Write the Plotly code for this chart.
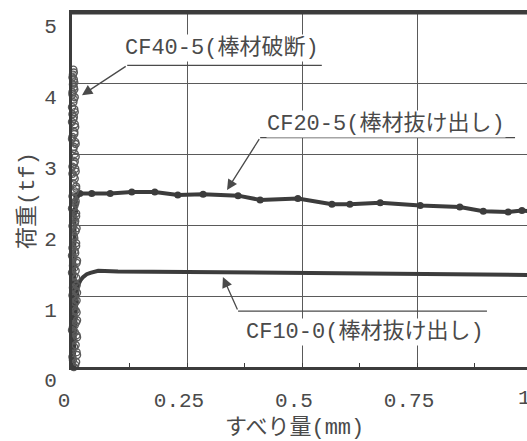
import plotly.graph_objects as go

# ---- data ----
cf40_x = [0.004, 0.009, 0.001, 0.010, 0.005, -0.003, 0.011, 0.006, 0.002, 0.009,
          0.004, 0.010, -0.002, 0.007, 0.005, 0.011, 0.002, 0.006, 0.009, 0.000,
          0.005, 0.010, 0.003, 0.007, 0.001, 0.009, 0.005, -0.003, 0.010, 0.006,
          0.003, 0.009, 0.000, 0.007, 0.004, -0.002, 0.009, 0.003, 0.006, 0.001,
          0.007, 0.004, -0.003, 0.006, 0.003, 0.008, 0.000, 0.005, -0.002, 0.006,
          0.003, 0.001, 0.005, -0.002, 0.004, 0.001, 0.005, 0.002, 0.004, 0.002,
          0.003,
          0.007, 0.002, 0.011, -0.001, 0.008, 0.003, 0.010, 0.000, 0.006, 0.011,
          -0.002, 0.008, 0.003, 0.010, 0.001, 0.007, 0.010, -0.001, 0.004, 0.008,
          0.002, 0.011, 0.000, 0.006, 0.009, -0.002, 0.004, 0.008, 0.001, 0.007,
          0.009, -0.001, 0.005, 0.008, 0.001, 0.006, 0.009, -0.002, 0.004, 0.008,
          0.001, 0.006, 0.008, -0.001, 0.004, 0.007, 0.001, 0.005, 0.007, 0.000,
          0.004, 0.006, 0.000, 0.003, 0.006, 0.001, 0.004, 0.005, 0.001, 0.004]
cf40_y = [0.00, 0.07, 0.14, 0.21, 0.28, 0.35, 0.42, 0.49, 0.56, 0.63,
          0.70, 0.77, 0.84, 0.91, 0.98, 1.05, 1.12, 1.19, 1.26, 1.33,
          1.40, 1.47, 1.54, 1.61, 1.68, 1.75, 1.82, 1.89, 1.96, 2.03,
          2.10, 2.17, 2.24, 2.31, 2.38, 2.45, 2.52, 2.59, 2.66, 2.73,
          2.80, 2.87, 2.94, 3.01, 3.08, 3.15, 3.22, 3.29, 3.36, 3.43,
          3.50, 3.57, 3.64, 3.71, 3.78, 3.85, 3.92, 3.99, 4.06, 4.13,
          4.20,
          0.03, 0.10, 0.17, 0.24, 0.31, 0.38, 0.45, 0.52, 0.59, 0.66,
          0.73, 0.80, 0.87, 0.94, 1.01, 1.08, 1.15, 1.22, 1.29, 1.36,
          1.43, 1.50, 1.57, 1.64, 1.71, 1.78, 1.85, 1.92, 1.99, 2.06,
          2.13, 2.20, 2.27, 2.34, 2.41, 2.48, 2.55, 2.62, 2.69, 2.76,
          2.83, 2.90, 2.97, 3.04, 3.11, 3.18, 3.25, 3.32, 3.39, 3.46,
          3.53, 3.60, 3.67, 3.74, 3.81, 3.88, 3.95, 4.02, 4.09, 4.16]

cf20_x = [0.002, 0.004, 0.006, 0.010, 0.017, 0.043, 0.083, 0.130, 0.180, 0.230,
          0.285, 0.361, 0.409, 0.491, 0.565, 0.604, 0.670, 0.757, 0.843, 0.894,
          0.948, 0.978, 1.000]
cf20_y = [0.00, 1.20, 2.20, 2.42, 2.45, 2.45, 2.45, 2.47, 2.47, 2.43,
          2.44, 2.42, 2.36, 2.38, 2.30, 2.30, 2.32, 2.28, 2.26, 2.20,
          2.19, 2.21, 2.20]

cf10_x = [0.003, 0.006, 0.009, 0.013, 0.018, 0.024, 0.032, 0.040, 0.057, 0.100,
          0.250, 0.500, 0.670, 0.850, 1.000]
cf10_y = [0.00, 0.50, 0.90, 1.15, 1.22, 1.27, 1.31, 1.33, 1.36, 1.35,
          1.34, 1.33, 1.31, 1.30, 1.30]

x_ticks = [0, 0.25, 0.5, 0.75]
x_tick_text = ["0", "0.25", "0.5", "0.75"]
y_ticks = [0, 1, 2, 3, 4, 5]
y_tick_text = ["0", "1", "2", "3", "4", "5"]

label_cf40 = "CF40-5(棒材破断)"
label_cf20 = "CF20-5(棒材抜け出し)"
label_cf10 = "CF10-0(棒材抜け出し)"
x_title = "すべり量(mm)"
y_title = "荷重(tf)"

FONT = "Liberation Mono, DejaVu Sans Mono, Noto Sans CJK JP, sans-serif"
INK = "#3c3c3c"
TXT = "#4a4a4a"

fig = go.Figure()

fig.add_trace(go.Scatter(
    x=cf10_x, y=cf10_y, mode="lines", name="CF10-0",
    line=dict(color=INK, width=4), cliponaxis=False))
fig.add_trace(go.Scatter(
    x=cf20_x, y=cf20_y, mode="lines+markers", name="CF20-5",
    line=dict(color=INK, width=4), marker=dict(color=INK, size=7),
    cliponaxis=False))
fig.add_trace(go.Scatter(
    x=cf40_x, y=cf40_y, mode="markers", name="CF40-5",
    marker=dict(symbol="circle-open", size=7, color="#5a5a5a",
                line=dict(width=1.4, color="#5a5a5a")),
    cliponaxis=False))

# label texts (white background breaks the grid like the original)
labels = [
    dict(text=label_cf40, x=0.327, y=4.51),
    dict(text=label_cf20, x=0.682, y=3.43),
    dict(text=label_cf10, x=0.637, y=0.49),
]
for lb in labels:
    fig.add_annotation(x=lb["x"], y=lb["y"], xref="x", yref="y", text=lb["text"],
                       showarrow=False, bgcolor="white", borderpad=0,
                       xanchor="center", yanchor="middle",
                       font=dict(family=FONT, size=22, color=TXT))

# underlines / overline of the labels
for (x0, x1, yy) in [(0.120, 0.543, 4.26), (0.409, 0.963, 3.24), (0.361, 0.902, 0.79)]:
    fig.add_shape(type="line", x0=x0, x1=x1, y0=yy, y1=yy, xref="x", yref="y",
                  line=dict(color=TXT, width=1.3))

# leader arrows
for (tx, ty, sx, sy) in [(0.0217, 3.84, 0.120, 4.26),
                         (0.337, 2.50, 0.409, 3.24),
                         (0.328, 1.27, 0.361, 0.79)]:
    fig.add_annotation(x=tx, y=ty, ax=sx, ay=sy, xref="x", yref="y",
                       axref="x", ayref="y", text="", showarrow=True,
                       arrowhead=2, arrowsize=1.6, arrowwidth=1.3,
                       arrowcolor=TXT, standoff=0)

# top frame line
fig.add_shape(type="line", x0=0, x1=1, y0=5, y1=5, xref="paper", yref="y",
              line=dict(color=INK, width=3))

# partially visible "1" tick label at the right edge
fig.add_annotation(x=1.0 / 0.989, y=0, xref="paper", yref="paper", xshift=-8,
                   yshift=-31, xanchor="center", yanchor="middle",
                   text="1", showarrow=False,
                   font=dict(family=FONT, size=21, color=TXT))

# axis titles
fig.add_annotation(x=0, y=0.469, xref="paper", yref="paper", xshift=-44,
                   xanchor="center", yanchor="middle",
                   text=y_title, textangle=-90, showarrow=False,
                   font=dict(family=FONT, size=22, color=TXT))
fig.add_annotation(x=0.49, y=0, xref="paper", yref="paper", yshift=-61,
                   xanchor="center", yanchor="middle",
                   text=x_title, showarrow=False,
                   font=dict(family=FONT, size=22, color=TXT))

fig.update_layout(
    width=527, height=441,
    margin=dict(l=72, r=0, t=13, b=74),
    paper_bgcolor="white", plot_bgcolor="white",
    showlegend=False,
    font=dict(family=FONT, color=TXT),
)
fig.update_xaxes(
    range=[0, 0.989], tickvals=x_ticks, ticktext=x_tick_text,
    showgrid=True, gridcolor="#5a5a5a", gridwidth=1, zeroline=False,
    showline=True, linecolor=INK, linewidth=3, mirror=True,
    ticks="outside", ticklen=0, tickcolor="white",
    ticklabelstandoff=12, ticklabelshift=-8,
    tickfont=dict(family=FONT, size=21, color=TXT),
    minor=dict(dtick=0.125, tick0=0, ticks="inside", ticklen=4,
               tickcolor=INK, showgrid=False),
)
fig.update_yaxes(
    range=[0, 5], tickvals=y_ticks, ticktext=y_tick_text,
    showgrid=True, gridcolor="#5a5a5a", gridwidth=1, zeroline=False,
    showline=True, linecolor=INK, linewidth=3, mirror=False,
    ticks="outside", ticklen=0, tickcolor="white",
    ticklabelstandoff=8, ticklabelshift=13,
    tickfont=dict(family=FONT, size=21, color=TXT),
)

fig.write_html("out.html",
               config={"displayModeBar": False},
               post_script="document.body.style.margin='0px';"
                           "document.body.style.overflow='hidden';")
